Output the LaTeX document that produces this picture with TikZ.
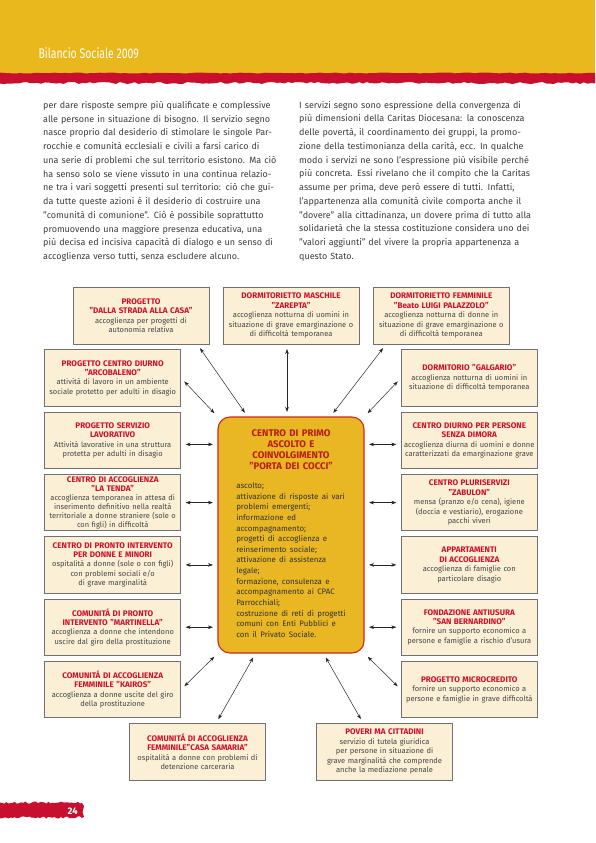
\documentclass[tikz,border=0pt]{standalone}
\usepackage{fontspec}
\setmainfont{Fira Sans}
\usetikzlibrary{arrows.meta}

\definecolor{headyellow}{HTML}{E9B81C}
\definecolor{stripred}{HTML}{C8102E}
\definecolor{hubfill}{HTML}{E9B723}
\definecolor{hubline}{HTML}{D0281C}
\definecolor{hubred}{HTML}{B81D18}
\definecolor{boxfill}{HTML}{FBF0D6}
\definecolor{boxline}{HTML}{707070}
\definecolor{titlered}{HTML}{D0102A}
\definecolor{bodygray}{HTML}{454545}
\definecolor{colgray}{HTML}{3C3C3C}

\newcommand{\boxtitle}[1]{{\color{titlered}\bfseries\fontsize{8.1}{9.3}\selectfont #1\par}}
\newcommand{\fullline}[1]{\makebox[\hsize][s]{#1}\\}

\begin{document}
\begin{tikzpicture}[x=1pt, y=-1pt,
  svcbox/.style={draw=boxline, line width=0.9pt, fill=boxfill,
    minimum width=136pt, minimum height=56.5pt, text width=136pt,
    inner xsep=0pt, inner ysep=0.5pt, align=center, text=bodygray,
    font=\fontsize{7.5}{9.5}\selectfont},
  hub/.style={draw=hubline, line width=1.1pt, fill=hubfill,
    rounded corners=12pt, minimum width=146pt, minimum height=236pt,
    text width=140pt, inner sep=0pt, align=center, text=black!80},
  coltext/.style={anchor=north west, inner sep=0pt, align=left,
    text=colgray, font=\fontsize{9}{13.75}\selectfont},
  conn/.style={{Stealth[length=5pt,width=3.6pt]}-{Stealth[length=5pt,width=3.6pt]},
    line width=0.5pt, black!85, shorten <=4.5pt, shorten >=4.5pt}]

  \useasboundingbox (0,0) rectangle (595,843);

  % ---- header band with torn red strip ----
  \fill[headyellow] (0,0) rectangle (595,76);
  \pgfmathsetseed{21}
  \fill[stripred] plot[domain=0:595, samples=120] (\x, {73+0.5*rand})
    -- plot[domain=595:0, samples=160] (\x, {83+1.1*rand}) -- cycle;
  \node[anchor=base west, inner sep=0pt, text=white,
    font=\fontsize{14}{16}\selectfont] (header) at (38.3,58.3)
    {\scalebox{0.75}[1]{Bilancio Sociale 2009}};

  % ---- two columns of running text ----
  \node[coltext, text width=244pt] (leftcol) at (43,101) {\noindent
    \fullline{per dare risposte sempre più qualificate e complessive}
    \fullline{alle persone in situazione di bisogno. Il servizio segno}
    \fullline{nasce proprio dal desiderio di stimolare le singole Par-}
    \fullline{rocchie e comunità ecclesiali e civili a farsi carico di}
    \fullline{una serie di problemi che sul territorio esistono. Ma ciò}
    \fullline{ha senso solo se viene vissuto in una continua relazio-}
    \fullline{ne tra i vari soggetti presenti sul territorio: ciò che gui-}
    \fullline{da tutte queste azioni è il desiderio di costruire una}
    \fullline{"comunità di comunione". Ciò è possibile soprattutto}
    \fullline{promuovendo una maggiore presenza educativa, una}
    \fullline{più decisa ed incisiva capacità di dialogo e un senso di}
    accoglienza verso tutti, senza escludere alcuno.};
  \node[coltext, text width=253pt] (rightcol) at (299,101) {\noindent
    \fullline{I servizi segno sono espressione della convergenza di}
    \fullline{più dimensioni della Caritas Diocesana: la conoscenza}
    \fullline{delle povertà, il coordinamento dei gruppi, la promo-}
    \fullline{zione della testimonianza della carità, ecc. In qualche}
    \fullline{modo i servizi ne sono l'espressione più visibile perché}
    \fullline{più concreta. Essi rivelano che il compito che la Caritas}
    \fullline{assume per prima, deve però essere di tutti. Infatti,}
    \fullline{l'appartenenza alla comunità civile comporta anche il}
    \fullline{"dovere" alla cittadinanza, un dovere prima di tutto alla}
    \fullline{solidarietà che la stessa costituzione considera uno dei}
    \fullline{"valori aggiunti" del vivere la propria appartenenza a}
    questo Stato.};

  % ---- central node ----
  \node[hub] (hub) at (291,535) {%
    {\color{hubred}\bfseries\fontsize{9.6}{11.2}\selectfont
      CENTRO DI PRIMO\\ASCOLTO E\\COINVOLGIMENTO\\"PORTA DEI COCCI"\par}
    \vspace{10pt}
    {\fontsize{7.9}{10.64}\selectfont
    \begin{tabular}{@{}l@{}}
      ascolto;\\
      attivazione di risposte ai vari\\
      problemi emergenti;\\
      informazione ed\\
      accompagnamento;\\
      progetti di accoglienza e\\
      reinserimento sociale;\\
      attivazione di assistenza\\
      legale;\\
      formazione, consulenza e\\
      accompagnamento ai CPAC\\
      Parrocchiali;\\
      costruzione di reti di progetti\\
      comuni con Enti Pubblici e\\
      con il Privato Sociale.
    \end{tabular}\par}};

  % ---- top row ----
  \node[svcbox] (strada) at (141,315.8)
    {\boxtitle{PROGETTO\\"DALLA STRADA ALLA CASA"}
     accoglienza per progetti di\\autonomia relativa};
  \node[svcbox] (zarepta) at (291,315.8)
    {\boxtitle{DORMITORIETTO MASCHILE\\"ZAREPTA"}
     accoglienza notturna di uomini in\\situazione di grave emarginazione o\\di difficoltà temporanea};
  \node[svcbox] (femminile) at (441.3,315.8)
    {\boxtitle{DORMITORIETTO FEMMINILE\\"Beato LUIGI PALAZZOLO"}
     accoglienza notturna di donne in\\situazione di grave emarginazione o\\di difficoltà temporanea};

  % ---- left column of services ----
  \node[svcbox] (arcobaleno) at (112.7,378.1)
    {\boxtitle{PROGETTO CENTRO DIURNO\\"ARCOBALENO"}
     attività di lavoro in un ambiente\\sociale protetto per adulti in disagio};
  \node[svcbox] (lavorativo) at (112.7,440.4)
    {\boxtitle{PROGETTO SERVIZIO\\LAVORATIVO}
     Attività lavorative in una struttura\\protetta per adulti in disagio};
  \node[svcbox, font=\fontsize{7.5}{9}\selectfont] (tenda) at (112.7,502.6)
    {\boxtitle{CENTRO DI ACCOGLIENZA\\"LA TENDA"}
     accoglienza temporanea in attesa di\\inserimento definitivo nella realtà\\territoriale a donne straniere (sole o\\con figli) in difficoltà};
  \node[svcbox] (pronto) at (112.7,564.9)
    {\boxtitle{CENTRO DI PRONTO INTERVENTO\\PER DONNE E MINORI}
     ospitalità a donne (sole o con figli)\\con problemi sociali e/o\\di grave marginalità};
  \node[svcbox] (martinella) at (112.7,627.2)
    {\boxtitle{COMUNITÁ DI PRONTO\\INTERVENTO "MARTINELLA"}
     accoglienza a donne che intendono\\uscire dal giro della prostituzione};
  \node[svcbox] (kairos) at (112.7,689.5)
    {\boxtitle{COMUNITÁ DI ACCOGLIENZA\\FEMMINILE "KAIROS"}
     accoglienza a donne uscite del giro\\della prostituzione};

  % ---- right column of services ----
  \node[svcbox] (galgario) at (469.3,378.1)
    {\boxtitle{DORMITORIO "GALGARIO"}
     accoglienza notturna di uomini in\\situazione di difficoltà temporanea};
  \node[svcbox] (senzadimora) at (469.3,440.4)
    {\boxtitle{CENTRO DIURNO PER PERSONE\\SENZA DIMORA}
     accoglienza diurna di uomini e donne\\caratterizzati da emarginazione grave};
  \node[svcbox] (zabulon) at (469.3,502.6)
    {\boxtitle{CENTRO PLURISERVIZI\\"ZABULON"}
     mensa (pranzo e/o cena), igiene\\(doccia e vestiario), erogazione\\pacchi viveri};
  \node[svcbox] (appartamenti) at (469.3,564.9)
    {\boxtitle{APPARTAMENTI\\DI ACCOGLIENZA}
     accoglienza di famiglie con\\particolare disagio};
  \node[svcbox] (fondazione) at (469.3,627.2)
    {\boxtitle{FONDAZIONE ANTIUSURA\\"SAN BERNARDINO"}
     fornire un supporto economico a\\persone e famiglie a rischio d'usura};
  \node[svcbox] (microcredito) at (469.3,689.5)
    {\boxtitle{PROGETTO MICROCREDITO}
     fornire un supporto economico a\\persone e famiglie in grave difficoltà};

  % ---- bottom row ----
  \node[svcbox] (samaria) at (197.5,751.8)
    {\boxtitle{COMUNITÁ DI ACCOGLIENZA\\FEMMINILE"CASA SAMARIA"}
     ospitalità a donne con problemi di\\detenzione carceraria};
  \node[svcbox] (poveri) at (384.5,751.8)
    {\boxtitle{POVERI MA CITTADINI}
     servizio di tutela giuridica\\per persone in situazione di\\grave marginalità che comprende\\anche la mediazione penale};

  % ---- connectors to the central node ----
  \draw[conn] ([xshift=-12pt]strada.south east) -- ([xshift=30pt]hub.north west);
  \draw[conn] ([xshift=-4pt]zarepta.south) -- ([xshift=-4pt]hub.north);
  \draw[conn] ([xshift=13pt]femminile.south west) -- ([xshift=-34pt]hub.north east);
  \draw[conn] (arcobaleno.east) -- (hub.north west);
  \draw[conn] (galgario.west) -- (hub.north east);
  \draw[conn] ([yshift=-4pt]lavorativo.east) -- ([yshift=-4pt]lavorativo.east -| hub.west);
  \draw[conn] ([yshift=-4pt]senzadimora.west) -- ([yshift=-4pt]senzadimora.west -| hub.east);
  \draw[conn] (tenda.east) -- (tenda.east -| hub.west);
  \draw[conn] (zabulon.west) -- (zabulon.west -| hub.east);
  \draw[conn] (pronto.east) -- (pronto.east -| hub.west);
  \draw[conn] (appartamenti.west) -- (appartamenti.west -| hub.east);
  \draw[conn] (martinella.east) -- (martinella.east -| hub.west);
  \draw[conn] (fondazione.west) -- (fondazione.west -| hub.east);
  \draw[conn] (kairos.east) -- (hub.south west);
  \draw[conn] (microcredito.west) -- (hub.south east);
  \draw[conn] ([xshift=87pt]samaria.north west) -- ([xshift=38pt]hub.south west);
  \draw[conn] ([xshift=47pt]poveri.north west) -- ([xshift=-41pt]hub.south east);

  % ---- page number strip ----
  \fill[stripred] plot[domain=0:82, samples=40] (\x, {802.5+1.2*rand})
    -- (84,806) -- (82.6,812) -- (84,817)
    -- plot[domain=82:0, samples=40] (\x, {817.5+1.2*rand}) -- cycle;
  \node[anchor=base west, inner sep=0pt, text=white,
    font=\fontsize{9.5}{11}\selectfont\bfseries] (pagenum) at (67.5,814) {24};

\end{tikzpicture}
\end{document}
